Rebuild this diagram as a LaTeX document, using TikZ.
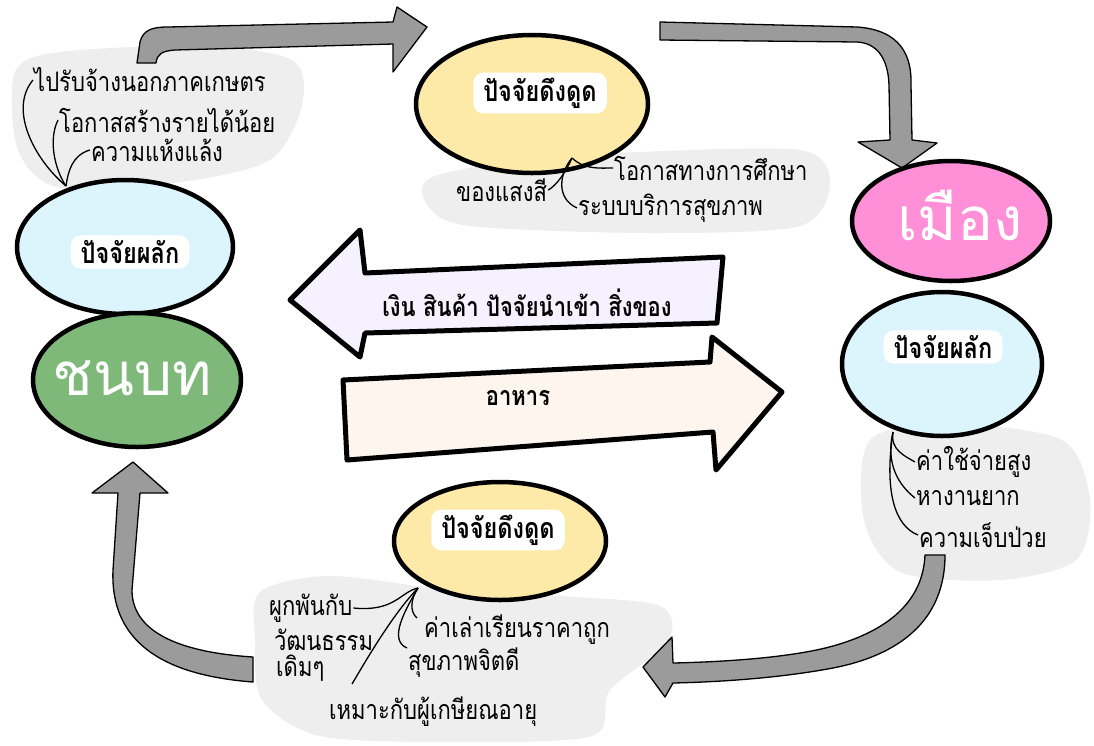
\documentclass[tikz,border=0pt]{standalone}
\usepackage{graphicx}
\usepackage{fontspec}
\newfontfamily\thai[Script=Thai]{Loma}
\usetikzlibrary{shapes.geometric}
\newcommand{\tallTxt}[1]{\scalebox{1}[1.22]{#1}}
\definecolor{lblue}{RGB}{220,245,252}
\definecolor{pullyellow}{RGB}{254,234,168}
\definecolor{citypink}{RGB}{255,143,214}
\definecolor{ruralgreen}{RGB}{126,185,122}
\definecolor{lavender}{RGB}{245,241,255}
\definecolor{peach}{RGB}{253,245,238}
\definecolor{arrowgray}{RGB}{155,155,155}
\definecolor{blobgray}{RGB}{238,238,238}
\begin{document}
\begin{tikzpicture}[x=1pt,y=-1pt,
  blob/.style={fill=blobgray,draw=none},
  bubble/.style={ellipse,draw=black,line width=4.5pt,inner sep=0pt},
  lbl/.style={fill=white,rounded corners=10pt,font=\thai\bfseries\fontsize{23.5}{26}\selectfont,inner xsep=10pt,inner ysep=5pt},
  arrowtext/.style={font=\thai\bfseries\fontsize{22}{26}\selectfont},
  note/.style={font=\thai\fontsize{22}{26}\selectfont,inner sep=1pt,anchor=west},
  root/.style={draw=black,line width=1.3pt},
  grayarrow/.style={fill=arrowgray,draw=black,line width=1.3pt,line join=round},
  bigarrow/.style={draw=black,line width=5pt,line join=round},
  bigword/.style={font=\thai\fontsize{60}{70}\selectfont,text=white}]
\fill[white] (0,0) rectangle (1094,745);
\useasboundingbox (0,0) rectangle (1094,745);

% background blobs
\fill[blob] plot[smooth cycle] coordinates {(15,72) (60,52) (200,46) (292,60) (302,105) (270,160) (180,182) (60,188) (18,150)};
\fill[blob] plot[smooth cycle] coordinates {(430,178) (520,160) (640,152) (800,150) (830,182) (800,226) (650,233) (470,226) (428,206)};
\fill[blob] plot[smooth cycle] coordinates {(870,440) (950,424) (1062,440) (1090,500) (1076,560) (1000,580) (900,572) (864,520)};
\fill[blob] plot[smooth cycle] coordinates {(260,592) (330,576) (450,590) (560,596) (660,606) (668,642) (610,690) (592,736) (450,742) (320,736) (262,700) (255,640)};

% gray cycle arrows
\path[grayarrow] (137,63) -- (140,42) .. controls (143,30) and (152,27) .. (168,27) -- (393,22) -- (397,7) -- (427,27) -- (393,72) -- (393,44) -- (175,50) .. controls (162,51) and (157,54) .. (156,63) -- cycle;
\path[grayarrow] (660,22) -- (857,27) .. controls (900,30) and (912,55) .. (911,85) -- (912,140) -- (937,143) -- (902,168) -- (858,142) -- (890,140) -- (889,85) .. controls (888,57) and (876,43) .. (857,42) -- (660,40) -- cycle;
\path[grayarrow] (925,555) -- (945,555) .. controls (945,620) and (900,655) .. (833,668) .. controls (780,678) and (720,682) .. (673,683) -- (665,697) -- (643,667) -- (672,637) -- (673,663) .. controls (720,662) and (790,658) .. (833,646) .. controls (890,630) and (923,600) .. (925,555) -- cycle;
\path[grayarrow] (118,493) -- (92,493) -- (133,462) -- (168,493) -- (140,493) -- (132,590) .. controls (132,630) and (175,652) .. (253,657) -- (253,682) .. controls (160,675) and (110,640) .. (113,570) -- cycle;

% bubbles
\node[bubble,fill=lblue,minimum width=216,minimum height=134] (pushL) at (125,247) {};
\node[bubble,fill=ruralgreen,minimum width=208,minimum height=134] (rural) at (137,380) {};
\node[bubble,fill=pullyellow,minimum width=232,minimum height=138] (pullT) at (532,104) {};
\node[bubble,fill=citypink,minimum width=198,minimum height=120] (city) at (951,221) {};
\node[bubble,fill=lblue,minimum width=200,minimum height=144] (pushR) at (942,364) {};
\node[bubble,fill=pullyellow,minimum width=212,minimum height=118] (pullB) at (500,541) {};

\node[lbl] (lpushL) at (130,252) {\tallTxt{ปัจจัยผลัก}};
\node[lbl] (lpullT) at (540,93) {\tallTxt{ปัจจัยดึงดูด}};
\node[lbl] (lpushR) at (943,347) {\tallTxt{ปัจจัยผลัก}};
\node[lbl] (lpullB) at (498,530) {\tallTxt{ปัจจัยดึงดูด}};
\node[bigword] (wrural) at (132,378) {ชนบท};
\node[bigword] (wcity) at (960,215) {เมือง};

% big flow arrows
\path[bigarrow,fill=lavender] (290,300) -- (360,230) -- (365,273) -- (723,257) -- (717,323) -- (365,333) -- (360,357) -- cycle;
\path[bigarrow,fill=peach] (343,380) -- (710,362) -- (712,337) -- (782,392) -- (716,470) -- (713,432) -- (347,460) -- cycle;
\node[arrowtext] (tmoney) at (527,303) {\tallTxt{เงิน สินค้า ปัจจัยนำเข้า สิ่งของ}};
\node[arrowtext] (tfood) at (518,398) {\tallTxt{อาหาร}};

% notes
\node[note] (n1) at (33,80) {\tallTxt{ไปรับจ้างนอกภาคเกษตร}};
\node[note] (n2) at (58,120) {\tallTxt{โอกาสสร้างรายได้น้อย}};
\node[note] (n3) at (90,150) {\tallTxt{ความแห้งแล้ง}};
\node[note] (n4) at (455,190) {\tallTxt{ของแสงสี}};
\node[note] (n5) at (613,168) {\tallTxt{โอกาสทางการศึกษา}};
\node[note] (n6) at (577,208) {\tallTxt{ระบบบริการสุขภาพ}};
\node[note] (n7) at (915,462) {\tallTxt{ค่าใช้จ่ายสูง}};
\node[note] (n8) at (915,498) {\tallTxt{หางานยาก}};
\node[note] (n9) at (918,535) {\tallTxt{ความเจ็บป่วย}};
\node[note] (n10) at (268,608) {\tallTxt{ผูกพันกับ}};
\node[note] (n11) at (273,640) {\tallTxt{วัฒนธรรม}};
\node[note] (n12) at (275,668) {\tallTxt{เดิมๆ}};
\node[note] (n13) at (423,630) {\tallTxt{ค่าเล่าเรียนราคาถูก}};
\node[note] (n14) at (407,663) {\tallTxt{สุขภาพจิตดี}};
\node[note] (n15) at (328,712) {\tallTxt{เหมาะกับผู้เกษียณอายุ}};

% roots
\coordinate (rTL) at (66,186);
\draw[root] (rTL) .. controls (35,160) and (8,110) .. (n1.west);
\draw[root] (rTL) .. controls (55,170) and (48,140) .. (n2.west);
\draw[root] (rTL) .. controls (68,172) and (72,155) .. (n3.west);
\coordinate (rT) at (572,158);
\draw[root] (rT) .. controls (585,170) and (600,168) .. (n5.west);
\draw[root] (rT) .. controls (560,172) and (555,198) .. (n6.west);
\draw[root] (rT) .. controls (566,172) and (556,186) .. (n4.east);
\coordinate (rR) at (893,432);
\draw[root] (rR) .. controls (890,450) and (905,456) .. (n7.west);
\draw[root] (rR) .. controls (884,470) and (905,490) .. (n8.west);
\draw[root] (rR) .. controls (884,492) and (895,526) .. (n9.west);
\coordinate (rB) at (418,588);
\coordinate (rB2) at (352,684);
\coordinate (rB3) at (407,648);
\coordinate (rB4) at (417,618);
\draw[root] (rB) .. controls (400,592) and (395,612) .. (n10.east);
\draw[root] (rB) .. controls (395,612) and (372,650) .. (rB2);
\draw[root] (rB) .. controls (405,610) and (388,640) .. (rB3);
\draw[root] (rB) .. controls (410,600) and (410,612) .. (rB4);
\end{tikzpicture}
\end{document}
